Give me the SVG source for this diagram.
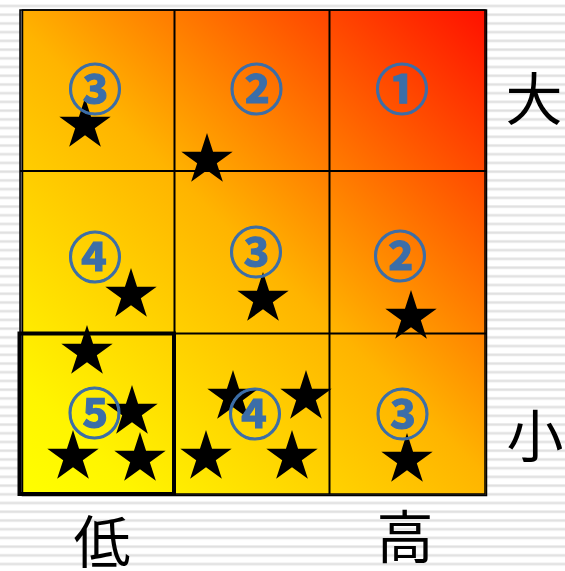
<svg xmlns="http://www.w3.org/2000/svg" xmlns:xlink="http://www.w3.org/1999/xlink" width="565" height="571" viewBox="0 0 565 571">
<style>
.num{font-family:"Noto Sans CJK JP","DejaVu Sans",sans-serif;font-size:54px;font-weight:bold;fill:#3C6EA8;stroke:#3C6EA8;stroke-width:1.1;text-anchor:middle;dominant-baseline:central}
.lbl{font-family:"Noto Sans CJK JP","Noto Sans CJK SC",sans-serif;font-size:57px;fill:#000;text-anchor:middle;dominant-baseline:central}
.grid{stroke:#000;stroke-width:2;fill:none}
.star{fill:#000}
</style>
<defs>
<pattern id="stripes" patternUnits="userSpaceOnUse" x="0" y="1.5" width="20" height="8.72">
<rect x="0" y="0" width="20" height="8.72" fill="#fff"/>
<rect x="0" y="3" width="20" height="3" fill="#ececec"/>
<rect x="0" y="3.8" width="20" height="1.4" fill="#e0e0e0"/>
</pattern>
<linearGradient id="heat" gradientUnits="userSpaceOnUse" x1="20" y1="494" x2="486" y2="10">
<stop offset="0" stop-color="#FFFF00"/>
<stop offset="0.12" stop-color="#FFF500"/>
<stop offset="0.5" stop-color="#FFB400"/>
<stop offset="1" stop-color="#FF1000"/>
</linearGradient>
<path id="star" d="M0,-27 L6.06,-8.34 L25.68,-8.34 L9.81,3.19 L15.87,21.84 L0,10.31 L-15.87,21.84 L-9.81,3.19 L-25.68,-8.34 L-6.06,-8.34 Z"/>
</defs>
<rect x="0" y="0" width="565" height="571" fill="url(#stripes)"/>
<g id="matrix">
<rect x="20" y="10" width="466" height="485" fill="#777"/>
<rect x="22" y="10" width="464" height="484" fill="url(#heat)"/>
<rect x="20" y="10" width="465" height="484" fill="none" stroke="#000" stroke-width="1.5"/>
<rect x="22.5" y="10" width="464" height="485.5" fill="none" stroke="#000" stroke-width="1.5"/>
<line class="grid" x1="174.5" y1="10" x2="174.5" y2="494"/>
<line class="grid" x1="329.5" y1="10" x2="329.5" y2="494"/>
<line class="grid" x1="20" y1="171" x2="486" y2="171"/>
<line class="grid" x1="20" y1="333.5" x2="486" y2="333.5"/>
<rect x="19.5" y="333.5" width="154.5" height="160.5" fill="none" stroke="#000" stroke-width="4"/>
</g>
<g id="cell-r0c0">
<use href="#star" class="star" x="85" y="125"/>
<text class="num" x="95" y="86">③</text>
</g>
<g id="cell-r0c1">
<use href="#star" class="star" x="207" y="160"/>
<text class="num" x="256.5" y="86">②</text>
</g>
<g id="cell-r0c2">
<text class="num" x="402" y="86">①</text>
</g>
<g id="cell-r1c0">
<use href="#star" class="star" x="131" y="295"/>
<text class="num" x="95" y="254">④</text>
</g>
<g id="cell-r1c1">
<use href="#star" class="star" x="263" y="299"/>
<text class="num" x="256" y="249">③</text>
</g>
<g id="cell-r1c2">
<use href="#star" class="star" x="411" y="317"/>
<text class="num" x="400" y="253">②</text>
</g>
<g id="cell-r2c0">
<use href="#star" class="star" x="87" y="352"/>
<use href="#star" class="star" x="132" y="412"/>
<use href="#star" class="star" x="73" y="457"/>
<use href="#star" class="star" x="140" y="459"/>
<text class="num" x="94.5" y="410.5">⑤</text>
</g>
<g id="cell-r2c1">
<use href="#star" class="star" x="233" y="397"/>
<use href="#star" class="star" x="306" y="397"/>
<use href="#star" class="star" x="206" y="457"/>
<use href="#star" class="star" x="292" y="457"/>
<text class="num" x="255" y="411">④</text>
</g>
<g id="cell-r2c2">
<use href="#star" class="star" x="407" y="460"/>
<text class="num" x="402.5" y="411">③</text>
</g>
<g id="labels">
<text class="lbl" x="534" y="95">大</text>
<text class="lbl" x="535" y="432">小</text>
<text class="lbl" x="102" y="538">低</text>
<text class="lbl" x="405" y="533">高</text>
</g>
</svg>
